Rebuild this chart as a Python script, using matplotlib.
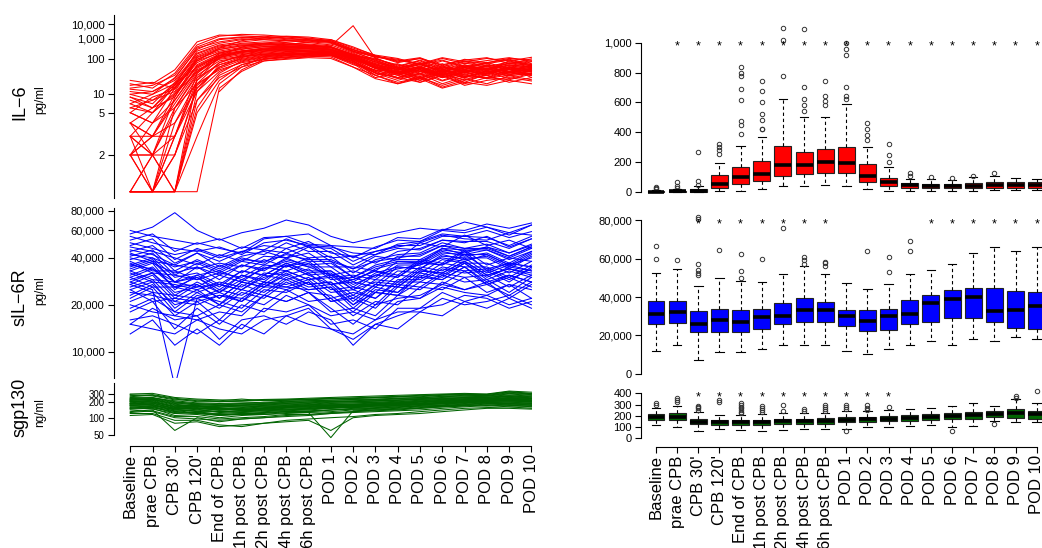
import numpy as np
import matplotlib
matplotlib.use("Agg")
import matplotlib.pyplot as plt
from matplotlib.ticker import FuncFormatter
import matplotlib.transforms as mtransforms

plt.rcParams['font.family'] = ['Liberation Sans', 'DejaVu Sans']

# ---------------------------------------------------------------- data
timepoints = ["Baseline", "prae CPB", "CPB 30'", "CPB 120'", "End of CPB",
              "1h post CPB", "2h post CPB", "4h post CPB", "6h post CPB",
              "POD 1", "POD 2", "POD 3", "POD 4", "POD 5", "POD 6",
              "POD 7", "POD 8", "POD 9", "POD 10"]

# individual patient courses, IL-6 (pg/ml); None = not measured
il6_patients = [
    [3, 2, 6, 40, 120, 210, 300, 280, 260, 240, 110, 60, 38, 52, 30, 45, 62, 41, 55],
    [1, 1, 4, 25, 80, 150, 200, 240, 230, 180, 90, 35, 48, 25, 40, 22, 38, 60, 30],
    [8, 6, 20, 150, 400, 600, 700, 650, 500, 380, 160, 95, 55, 80, 42, 70, 48, 90, 65],
    [2, 3, 10, 60, 150, 220, 260, 300, 280, 260, 120, 70, 40, 65, 35, 58, 75, 45, 70],
    [1, 1, 1, 8, 40, 90, 130, 160, 200, 210, 100, 45, 60, 28, 50, 32, 30, 52, 36],
    [5, 4, 15, 90, 200, 300, 420, 380, 340, 300, 150, 110, 60, 45, 75, 40, 66, 58, 85],
    [12, 10, 30, 300, 900, 1200, 1500, 1100, 900, 700, 250, 130, 90, 120, 65, 100, 80, 110, 95],
    [4, 3, 8, 50, 100, 140, 180, 200, 190, 170, 80, 40, 25, 38, 20, 32, 45, 28, 40],
    [2, 2, 5, 30, 70, 100, 150, 170, 160, 150, 70, 50, 30, 45, 38, 26, 40, 55, 35],
    [20, 15, 40, 500, 1500, 2000, 1800, 1400, 1100, 800, 300, 150, 85, 110, 70, 95, 120, 75, 105],
    [1, 1, 2, 15, 60, 120, 250, 350, 400, 300, 130, 55, 75, 40, 60, 48, 35, 58, 44],
    [6, 8, 12, 120, 300, 450, 500, 600, 550, 450, 8000, 110, 65, 90, 50, 78, 60, 85, 70],
    [3, 1, 3, 20, 50, 80, 100, 120, 140, 130, 60, 28, 20, 32, 16, 25, 35, 22, 30],
    [10, 12, 25, 200, 500, 700, 900, 800, 700, 600, 220, 100, 70, 55, 90, 62, 48, 80, 66],
    [2, 2, 1, 5, 25, 70, 110, 130, 150, 170, 90, 42, 30, 50, 25, 42, 28, 36, 48],
    [7, 5, 18, 100, 250, 380, 450, 420, 400, 380, 170, 85, 50, 72, 45, 60, 82, 52, 64],
    [1, 1, 1, 1, 15, 45, 90, 110, 130, 150, 80, 35, 22, 30, 18, 28, 20, 34, 26],
    [15, 18, 35, 400, 1000, 1300, 1100, 900, 800, 650, 240, 130, 95, 70, 110, 75, 92, 120, 88],
    [4, 6, 9, 70, 180, 260, 320, 350, 330, 290, 130, 65, 42, 58, 36, 52, 40, 62, 48],
    [2, 1, 6, 35, 90, 130, 170, 190, 210, 200, 95, 48, 35, 25, 42, 30, 46, 34, 40],
    [None, None, None, None, 12, 50, 100, 150, 180, 200, 100, 60, 40, 55, 32, 46, 38, 52, 44],
    [9, 7, 22, 180, 450, 550, 600, 550, 480, 420, 180, 95, 58, 80, 52, 68, 55, 75, 62],
    [1, 2, 3, 12, 45, 85, 120, 150, 170, 160, 75, 30, 40, 22, 34, 20, 30, 26, 38],
    [5, 9, 14, 80, 220, 320, 400, 450, 420, 360, 150, 75, 50, 70, 44, 58, 48, 66, 54],
    [3, 3, 7, 45, 110, 170, 220, 260, 240, 220, 105, 55, 38, 50, 30, 44, 56, 36, 50],
    [1, 1, 1, 3, 20, 60, 140, 200, 250, 240, 110, 58, 44, 32, 50, 36, 28, 42, 38],
    [25, 20, 50, 700, 1800, 1600, 1300, 1000, 850, 700, 280, 140, 100, 75, 120, 85, 110, 90, 125],
    [2, 4, 8, 55, 130, 190, 240, 280, 260, 230, 115, 62, 40, 58, 35, 50, 42, 60, 48],
    [6, 5, 11, 65, 160, 240, 310, 330, 310, 270, 125, 68, 52, 38, 60, 45, 70, 50, 58],
    [1, 1, 2, 18, 55, 95, 135, 165, 185, 175, 85, 45, 28, 40, 24, 36, 30, 44, 34],
    [18, 22, 15, 90, 350, 800, 1200, 1500, 1300, 900, 350, 160, 110, 70, 95, 60, 80, 100, 75],
    [1, 1, 1, 30, 150, 400, 600, 800, 900, 700, 250, 90, 55, 45, 65, 40, 55, 45, 60],
    [4, 2, 2, 8, 30, 60, 90, 100, 120, 110, 60, 35, 20, 28, 15, 22, 18, 25, 20],
    [10, 8, 18, 250, 600, 900, 1100, 1300, 1000, 800, 300, 120, 60, 95, 55, 85, 65, 75, 90],
    [2, 3, 3, 40, 200, 350, 500, 450, 420, 380, 140, 70, 45, 35, 55, 30, 48, 40, 52],
    [5, 4, 6, 20, 80, 160, 300, 500, 700, 900, 400, 150, 80, 110, 60, 90, 75, 95, 70],
    [1, 2, 1, 6, 35, 70, 100, 130, 160, 180, 90, 40, 30, 22, 36, 18, 25, 30, 24],
    [14, 12, 28, 350, 700, 1000, 900, 800, 650, 500, 200, 80, 55, 75, 45, 65, 50, 70, 58],
    [3, 2, 9, 100, 300, 450, 550, 500, 450, 400, 160, 75, 48, 62, 40, 56, 44, 58, 50],
    [7, 10, 20, 60, 150, 250, 350, 400, 380, 320, 140, 70, 45, 60, 38, 52, 65, 42, 55],
    [2, 1, 1, 12, 70, 130, 180, 220, 230, 200, 100, 55, 35, 50, 30, 42, 34, 46, 40],
    [1, 1, 3, 25, 120, 250, 350, 380, 360, 320, 120, 60, 42, 30, 48, 35, 52, 38, 45],
    [9, 6, 16, 130, 350, 500, 550, 520, 480, 400, 160, 85, 55, 72, 48, 62, 52, 68, 60],
    [3, 5, 10, 45, 140, 230, 280, 300, 320, 300, 120, 62, 40, 55, 34, 48, 38, 52, 44],
    [4, 3, 4, 15, 60, 110, 160, 180, 200, 220, 110, 55, 38, 28, 44, 30, 46, 34, 40],
]

# individual patient courses, sIL-6R (in 1,000 pg/ml)
sil6r_patients_k = [
    [31, 35, 26, 30, 24, 31, 28, 36, 31, 27, 29, 33, 30, 38, 36, 44, 33, 37, 35],
    [45, 42, 36, 43, 35, 41, 44, 40, 47, 38, 34, 41, 39, 50, 47, 56, 48, 52, 46],
    [22, 26, 18, 23, 21, 19, 25, 24, 28, 21, 22, 19, 26, 25, 31, 28, 29, 24, 30],
    [38, 33, 33, 29, 36, 32, 39, 35, 40, 31, 33, 30, 38, 37, 46, 42, 45, 39, 44],
    [26, 29, 21, 25, 20, 27, 24, 30, 26, 27, 20, 26, 24, 32, 30, 37, 29, 33, 30],
    [52, 57, 44, 50, 46, 43, 53, 55, 49, 48, 40, 47, 52, 51, 60, 58, 63, 56, 65],
    [18, 21, 14, 19, 15, 20, 18, 23, 20, 17, 18, 16, 21, 22, 26, 24, 23, 27, 22],
    [33, 29, 28, 26, 31, 28, 35, 33, 37, 29, 30, 27, 35, 34, 42, 39, 41, 35, 42],
    [29, 32, 23, 28, 24, 29, 27, 33, 29, 30, 23, 29, 28, 35, 33, 40, 32, 36, 33],
    [41, 45, 33, 39, 34, 40, 37, 46, 40, 41, 32, 39, 42, 43, 50, 46, 49, 43, 48],
    [24, 23, 21, 20, 23, 21, 26, 26, 25, 26, 19, 25, 24, 30, 29, 35, 28, 31, 28],
    [35, 39, 28, 35, 29, 36, 33, 40, 35, 35, 28, 34, 37, 37, 44, 41, 43, 37, 44],
    [13, 16, 11, 14, 11, 15, 13, 17, 15, 14, 12, 15, 14, 18, 17, 21, 19, 22, 19],
    [28, 25, 6, 22, 24, 21, 28, 26, 29, 22, 24, 22, 28, 28, 34, 32, 33, 28, 35],
    [60, 55, 52, 49, 53, 46, 54, 55, 57, 48, 47, 46, 54, 53, 61, 60, 66, 62, 67],
    [30, 34, 26, 27, 22, 28, 26, 32, 27, 28, 21, 27, 26, 33, 32, 38, 31, 34, 32],
    [37, 32, 31, 29, 32, 30, 36, 35, 38, 30, 31, 29, 36, 36, 43, 42, 42, 36, 43],
    [21, 24, 17, 21, 16, 22, 20, 25, 21, 22, 17, 21, 20, 26, 25, 30, 24, 27, 25],
    [43, 38, 36, 34, 37, 35, 41, 40, 43, 35, 35, 33, 41, 41, 48, 46, 46, 41, 47],
    [27, 31, 22, 27, 22, 28, 26, 31, 27, 28, 22, 27, 26, 33, 32, 38, 31, 34, 31],
    [34, 38, 28, 30, 25, 31, 29, 36, 31, 32, 25, 31, 30, 37, 36, 42, 34, 37, 35],
    [16, 17, 15, 13, 16, 14, 19, 18, 20, 15, 16, 14, 19, 19, 24, 21, 23, 20, 22],
    [48, 53, 39, 46, 41, 47, 45, 53, 47, 46, 38, 44, 48, 48, 55, 55, 54, 48, 55],
    [32, 28, 27, 25, 28, 26, 32, 31, 34, 27, 28, 26, 33, 32, 39, 37, 37, 32, 38],
    [25, 21, 22, 21, 23, 22, 27, 25, 28, 21, 23, 20, 27, 26, 32, 30, 31, 26, 31],
    [39, 43, 31, 37, 32, 38, 36, 43, 38, 38, 30, 36, 39, 39, 46, 45, 45, 40, 46],
    [30, 26, 26, 24, 27, 25, 31, 29, 32, 25, 26, 24, 31, 30, 37, 35, 35, 30, 36],
    [36, 40, 30, 32, 27, 33, 31, 37, 32, 33, 26, 32, 35, 34, 41, 40, 40, 34, 41],
    [20, 18, 17, 16, 18, 17, 23, 21, 24, 18, 19, 17, 23, 22, 28, 25, 27, 23, 28],
    [44, 48, 37, 43, 38, 44, 42, 50, 44, 44, 36, 42, 46, 45, 52, 51, 51, 46, 53],
    [57, 63, 78, 60, 52, 58, 62, 70, 65, 55, 50, 54, 58, 62, 60, 68, 63, 58, 65],
    [15, 19, 16, 17, 12, 16, 17, 15, 18, 16, 11, 15, 17, 19, 20, 23, 22, 19, 21],
    [47, 44, 40, 36, 42, 38, 45, 43, 48, 40, 41, 37, 44, 46, 52, 50, 55, 47, 53],
    [23, 27, 20, 22, 19, 24, 22, 28, 24, 23, 18, 24, 23, 28, 27, 33, 27, 30, 26],
    [36, 34, 28, 31, 33, 29, 34, 38, 35, 31, 29, 33, 31, 39, 37, 45, 36, 40, 38],
    [19, 22, 18, 17, 20, 18, 23, 21, 24, 19, 15, 20, 22, 23, 27, 25, 28, 22, 27],
    [50, 46, 42, 45, 40, 44, 48, 46, 51, 43, 41, 44, 47, 50, 56, 53, 52, 58, 56],
    [28, 32, 24, 26, 27, 25, 30, 33, 29, 31, 25, 28, 27, 34, 31, 37, 30, 35, 33],
    [40, 37, 32, 35, 31, 36, 34, 39, 36, 37, 30, 35, 38, 38, 45, 43, 47, 41, 47],
    [25, 28, 19, 24, 20, 25, 23, 29, 25, 26, 20, 24, 23, 31, 29, 35, 27, 31, 28],
    [55, 50, 46, 44, 47, 42, 50, 52, 48, 47, 43, 42, 49, 51, 57, 55, 60, 54, 59],
    [33, 37, 25, 31, 26, 33, 31, 37, 33, 33, 27, 31, 34, 36, 40, 38, 42, 36, 40],
    [15, 14, 13, 16, 14, 13, 16, 17, 19, 14, 13, 16, 18, 18, 22, 20, 21, 23, 20],
    [42, 40, 35, 38, 33, 39, 38, 42, 39, 39, 34, 38, 40, 42, 48, 44, 47, 43, 49],
    [27, 24, 23, 22, 25, 23, 28, 27, 30, 24, 25, 22, 29, 29, 35, 33, 34, 29, 34],
]

# individual patient courses, sgp130 (ng/ml)
sgp130_patients = [
    [185, 190, 145, 150, 140, 142, 150, 155, 160, 165, 170, 175, 180, 185, 195, 205, 215, 225, 215],
    [220, 230, 175, 165, 160, 165, 170, 175, 180, 190, 190, 195, 205, 215, 225, 235, 240, 260, 245],
    [160, 155, 125, 120, 115, 115, 125, 130, 130, 140, 145, 150, 155, 165, 170, 175, 190, 180, 175],
    [260, 280, 230, 200, 200, 210, 220, 220, 230, 240, 240, 250, 260, 270, 290, 300, 290, 340, 310],
    [140, 130, 100, 95, 90, 95, 100, 105, 110, 120, 125, 130, 135, 140, 150, 160, 170, 160, 160],
    [200, 210, 160, 160, 150, 150, 160, 165, 170, 175, 180, 185, 190, 200, 210, 220, 230, 240, 230],
    [175, 170, 140, 140, 130, 135, 140, 145, 150, 160, 165, 170, 175, 180, 190, 200, 210, 215, 205],
    [300, 310, 250, 230, 220, 215, 225, 230, 240, 250, 260, 270, 280, 290, 300, 310, 300, 350, 330],
    [120, 120, 90, 90, 75, 70, 80, 85, 90, 60, 100, 110, 115, 120, 130, 140, 150, 150, 145],
    [210, 200, 165, 150, 145, 150, 155, 160, 165, 170, 175, 180, 190, 200, 205, 215, 225, 235, 220],
    [150, 165, 120, 130, 115, 120, 125, 130, 135, 140, 150, 155, 160, 170, 175, 185, 195, 190, 185],
    [240, 250, 200, 180, 180, 185, 190, 200, 210, 215, 220, 225, 235, 245, 260, 270, 270, 300, 280],
    [170, 180, 130, 145, 125, 130, 135, 140, 145, 150, 160, 165, 170, 180, 185, 195, 205, 210, 200],
    [195, 185, 150, 155, 140, 145, 150, 160, 160, 170, 175, 180, 185, 195, 200, 210, 220, 230, 220],
    [130, 140, 60, 100, 85, 95, 100, 110, 115, 120, 130, 135, 140, 150, 160, 165, 175, 170, 165],
    [230, 225, 185, 175, 170, 175, 180, 185, 190, 200, 205, 210, 220, 230, 240, 250, 250, 270, 255],
    [165, 160, 135, 125, 120, 125, 130, 135, 140, 150, 155, 160, 165, 175, 180, 190, 200, 195, 190],
    [185, 200, 155, 160, 155, 140, 150, 160, 165, 175, 170, 180, 190, 190, 205, 215, 220, 230, 210],
    [250, 240, 210, 190, 185, 190, 195, 205, 210, 220, 225, 230, 240, 250, 265, 280, 275, 310, 290],
    [145, 150, 110, 115, 100, 110, 115, 120, 125, 45, 135, 140, 145, 155, 165, 170, 180, 175, 170],
    [205, 215, 170, 170, 160, 160, 165, 170, 175, 185, 190, 195, 200, 210, 220, 230, 235, 250, 240],
    [180, 175, 140, 135, 130, 135, 140, 140, 150, 155, 160, 170, 175, 180, 190, 195, 210, 205, 200],
    [275, 290, 240, 210, 210, 230, 210, 215, 225, 235, 245, 255, 265, 280, 285, 290, 280, 320, 300],
    [155, 145, 120, 125, 110, 120, 120, 130, 130, 140, 145, 150, 160, 165, 170, 180, 190, 185, 180],
    [215, 220, 180, 160, 165, 170, 175, 180, 185, 195, 200, 205, 215, 225, 230, 245, 250, 265, 240],
    [190, 175, 150, 145, 150, 135, 145, 155, 150, 160, 165, 170, 185, 180, 190, 200, 205, 220, 210],
    [235, 245, 195, 185, 175, 180, 185, 195, 200, 205, 210, 220, 230, 235, 250, 260, 265, 285, 270],
    [170, 165, 145, 130, 135, 125, 140, 140, 145, 155, 155, 165, 170, 175, 185, 190, 200, 200, 195],
    [125, 135, 105, 105, 95, 100, 105, 115, 115, 125, 130, 140, 145, 150, 160, 170, 165, 175, 160],
    [205, 195, 160, 165, 150, 155, 165, 165, 175, 180, 180, 190, 195, 205, 215, 225, 230, 245, 235],
    [290, 270, 220, 220, 200, 205, 215, 220, 220, 235, 235, 245, 255, 260, 280, 290, 295, 330, 305],
    [150, 155, 130, 120, 110, 115, 115, 125, 125, 130, 140, 145, 150, 160, 165, 175, 185, 185, 180],
    [225, 235, 190, 175, 170, 170, 180, 190, 195, 200, 200, 210, 215, 230, 235, 245, 255, 275, 260],
    [180, 190, 150, 150, 140, 145, 145, 150, 155, 165, 165, 175, 180, 185, 195, 200, 210, 220, 215],
    [110, 115, 80, 85, 70, 75, 80, 90, 95, 100, 105, 115, 120, 130, 140, 150, 155, 160, 150],
]

# box-plot summaries ---------------------------------------------------
il6_q1 = [1, 1, 3, 28, 55, 75, 110, 120, 130, 130, 70, 40, 30, 25, 25, 28, 30, 30, 30]
il6_med = [3, 4, 8, 55, 100, 120, 180, 180, 200, 195, 110, 65, 45, 40, 38, 42, 45, 48, 45]
il6_q3 = [6, 8, 18, 112, 165, 210, 310, 270, 290, 300, 185, 95, 60, 55, 55, 60, 70, 70, 65]
il6_lo = [0, 0, 0, 5, 10, 20, 40, 40, 50, 40, 20, 10, 10, 10, 8, 10, 12, 15, 15]
il6_hi = [12, 18, 40, 195, 310, 370, 620, 500, 500, 590, 300, 170, 90, 85, 80, 100, 110, 95, 90]
il6_out = [[20, 25, 35], [30, 40, 65], [50, 75, 270], [255, 280, 300, 320],
           [390, 450, 475, 615, 690, 775, 800, 840],
           [420, 425, 480, 525, 600, 675, 745],
           [780, 1020, 1100], [540, 580, 620, 700, 1090], [580, 610, 640, 740],
           [620, 640, 700, 920, 960, 1000], [350, 380, 420, 460], [200, 250, 320],
           [110, 130], [100], [95], [110], [130], [], []]
il6_sig = [1, 2, 3, 4, 5, 6, 7, 8, 9, 10, 11, 12, 13, 14, 15, 16, 17, 18]

sil6r_q1 = [26000, 26500, 22000, 22000, 22000, 23500, 26000, 27000, 27000, 25000,
            22500, 23000, 26000, 27000, 29000, 29000, 27000, 24000, 23500]
sil6r_med = [31000, 32000, 26000, 28000, 27000, 29500, 30000, 33000, 33000, 30000,
             27500, 30000, 31000, 37000, 39000, 40000, 32500, 33500, 35500]
sil6r_q3 = [38000, 38000, 32500, 34000, 33000, 34000, 37000, 39500, 37500, 33500,
            33500, 34000, 38500, 41000, 43500, 44500, 44500, 43000, 42500]
sil6r_lo = [12000, 15000, 7500, 11500, 11500, 13000, 15000, 15000, 15000, 12000,
            10500, 13000, 15000, 17000, 15000, 18000, 17000, 19000, 18000]
sil6r_hi = [52500, 54500, 45500, 50000, 48500, 48000, 52000, 56000, 52000, 47500,
            44000, 47000, 52000, 54000, 57000, 63000, 66000, 64000, 66000]
sil6r_out = [[59500, 66500], [59000], [51500, 52500, 54000, 57000, 80500, 81500],
             [64500], [50000, 53500, 62500], [59500], [76000],
             [57000, 59000, 61000], [56000, 57500, 58000], [], [64000],
             [53000, 61000], [64000, 69000], [], [], [], [], [], []]
sil6r_sig = [2, 3, 4, 5, 6, 7, 8, 13, 14, 15, 16, 17, 18]

sgp_q1 = [165, 160, 125, 120, 115, 115, 125, 130, 130, 140, 145, 150, 155, 165, 170, 175, 190, 180, 175]
sgp_med = [185, 185, 145, 145, 140, 140, 150, 150, 155, 165, 170, 175, 180, 185, 195, 205, 215, 225, 215]
sgp_q3 = [215, 220, 175, 165, 160, 165, 170, 175, 180, 190, 190, 195, 205, 215, 225, 235, 240, 260, 245]
sgp_lo = [120, 100, 60, 85, 70, 60, 70, 80, 80, 80, 100, 100, 110, 120, 100, 110, 150, 140, 140]
sgp_hi = [270, 290, 235, 205, 205, 215, 220, 225, 220, 240, 240, 250, 260, 270, 290, 310, 290, 350, 310]
sgp_out = [[300, 310], [320, 340, 360], [250, 265, 280, 290], [320, 340],
           [220, 235, 250, 265, 280, 300, 315], [235, 250, 270, 285], [240, 300],
           [240, 260], [240, 260, 280, 300], [60, 260, 280, 300], [250, 270, 300],
           [280], [], [], [60], [], [130], [360, 380], [420]]
sgp_sig = [2, 3, 4, 5, 6, 7, 8, 9, 10, 11]

# ---------------------------------------------------------------- layout
W, H = 1042, 548
fig = plt.figure(figsize=(W / 100, H / 100), dpi=100)
x = np.arange(len(timepoints))


def add_ax(x0, y0, x1, y1):
    return fig.add_axes([x0 / W, 1 - y1 / H, (x1 - x0) / W, (y1 - y0) / H])


def interp_scale(klog, kpx):
    klog = np.asarray(klog, float)
    kneg = -np.asarray(kpx, float)

    def fwd(v):
        v = np.asarray(v, float)
        with np.errstate(divide="ignore", invalid="ignore"):
            lv = np.log10(v)
        return np.interp(lv, klog, kneg)

    def inv(y):
        return 10 ** np.interp(np.asarray(y, float), kneg, klog)
    return fwd, inv


thousands = FuncFormatter(lambda v, p: f"{v:,.0f}")


def style(ax, xlim, lsize=8):
    ax.set_xlim(*xlim)
    for s in ("top", "right", "bottom"):
        ax.spines[s].set_visible(False)
    ax.spines["left"].set_linewidth(0.8)
    ax.tick_params(axis="y", length=4, width=0.8, pad=2.5, labelsize=lsize)
    ax.tick_params(axis="x", bottom=False, labelbottom=False)
    ax.patch.set_alpha(0)


def xaxis(ax, off):
    ax.spines["bottom"].set_visible(True)
    ax.spines["bottom"].set_position(("outward", off))
    ax.spines["bottom"].set_bounds(0, 18)
    ax.spines["bottom"].set_linewidth(0.8)
    ax.set_xticks(x)
    ax.set_xticklabels(timepoints, rotation=90, fontsize=12)
    ax.tick_params(axis="x", bottom=True, labelbottom=True, length=4,
                   width=0.8, pad=2)


def nan_list(p):
    return np.array([np.nan if v is None else v for v in p], float)


lines_xlim = (-0.75, 18.72)
box_xlim = (-0.71, 18.71)

# ---- left: IL-6 spaghetti (compressed log scale)
ax1 = add_ax(113.5, 15, 547.5, 197.7)
fwd, inv = interp_scale([-1, 0, np.log10(2), np.log10(5), 1, 2, 3, 4, 5],
                        [313.7, 191.7, 155.0, 112.7, 94.3, 59.3, 38.7, 24.3, 9.9])
ax1.set_yscale("function", functions=(fwd, inv))
for p in il6_patients:
    ax1.plot(x, nan_list(p), color="#FF0000", lw=0.75)
ax1.set_ylim(float(inv(-197.7)), float(inv(-15)))
style(ax1, lines_xlim)
ax1.set_yticks([2, 5, 10, 100, 1000, 10000])
ax1.set_yticks([], minor=True)
ax1.yaxis.set_major_formatter(thousands)

# ---- left: sIL-6R spaghetti (log)
ax2 = add_ax(113.5, 208, 547.5, 378)
ax2.set_yscale("log")
for p in sil6r_patients_k:
    ax2.plot(x, nan_list(p) * 1000, color="#0000FF", lw=0.75)
ax2.set_ylim(6780, 83600)
style(ax2, lines_xlim)
ax2.set_yticks([10000, 20000, 40000, 60000, 80000])
ax2.set_yticks([], minor=True)
ax2.yaxis.set_major_formatter(thousands)

# ---- left: sgp130 spaghetti
ax3 = add_ax(113.5, 382.7, 547.5, 440)
fwd3, inv3 = interp_scale([np.log10(20), np.log10(50), 2, np.log10(200), np.log10(300), 3],
                          [457.9, 435.0, 417.7, 401.7, 394.0, 371.1])
ax3.set_yscale("function", functions=(fwd3, inv3))
for p in sgp130_patients:
    ax3.plot(x, nan_list(p), color="#006400", lw=0.75)
ax3.set_ylim(float(inv3(-440)), float(inv3(-382.7)))
style(ax3, lines_xlim, lsize=7)
ax3.set_yticks([50, 100, 200, 300])
ax3.set_yticks([], minor=True)
ax3.yaxis.set_major_formatter(thousands)
ax3.spines["left"].set_bounds(50, float(inv3(-382.7)))
xaxis(ax3, 4.3)


# ---- right: box plots
def stats(q1, med, q3, lo, hi, out):
    return [dict(q1=a, med=b, q3=c, whislo=d, whishi=e, fliers=f)
            for a, b, c, d, e, f in zip(q1, med, q3, lo, hi, out)]


def boxes(ax, st, color, sig, top):
    ax.bxp(st, positions=x, widths=0.8, capwidths=0.4, patch_artist=True,
           manage_ticks=False,
           boxprops=dict(facecolor=color, edgecolor="#222222", linewidth=0.8),
           medianprops=dict(color="black", linewidth=2.6, solid_capstyle="butt"),
           whiskerprops=dict(color="black", linewidth=0.8, linestyle=(0, (3, 2.5))),
           capprops=dict(color="black", linewidth=0.8),
           flierprops=dict(marker="o", markerfacecolor="none",
                           markeredgecolor="#333333", markersize=3.2,
                           markeredgewidth=0.7))
    tr = mtransforms.offset_copy(ax.transData, fig=fig, x=0, y=-5.0, units="points")
    for i in sig:
        ax.text(i, top, "*", ha="center", va="baseline", fontsize=9,
                transform=tr)


bx1 = add_ax(641, 18, 1051.7, 197)
boxes(bx1, stats(il6_q1, il6_med, il6_q3, il6_lo, il6_hi, il6_out), "#FF0000", il6_sig, 1000)
bx1.set_ylim(-33.5, 1165)
style(bx1, box_xlim)
bx1.set_yticks([0, 200, 400, 600, 800, 1000])
bx1.yaxis.set_major_formatter(thousands)
bx1.spines["left"].set_bounds(0, 1000)

bx2 = add_ax(641, 212, 1051.7, 378)
boxes(bx2, stats(sil6r_q1, sil6r_med, sil6r_q3, sil6r_lo, sil6r_hi, sil6r_out), "#0000FF", sil6r_sig, 80000)
bx2.set_ylim(-2078, 84156)
style(bx2, box_xlim)
bx2.set_yticks([0, 20000, 40000, 60000, 80000])
bx2.yaxis.set_major_formatter(thousands)
bx2.spines["left"].set_bounds(0, 80000)

bx3 = add_ax(641, 386, 1051.7, 441)
boxes(bx3, stats(sgp_q1, sgp_med, sgp_q3, sgp_lo, sgp_hi, sgp_out), "#006400", sgp_sig, 400)
bx3.set_ylim(-27, 467)
style(bx3, box_xlim)
bx3.set_yticks([0, 100, 200, 300, 400])
bx3.yaxis.set_major_formatter(thousands)
bx3.spines["left"].set_bounds(0, 400)
xaxis(bx3, 4.3)


# ---- row labels
def px(xp, yp):
    return xp / W, 1 - yp / H


fig.text(*px(20, 102), "IL\u22126", rotation=90, ha="center", va="center", fontsize=13)
fig.text(*px(40, 100), "pg/ml", rotation=90, ha="center", va="center", fontsize=8.5)
fig.text(*px(20, 297), "sIL\u22126R", rotation=90, ha="center", va="center", fontsize=13)
fig.text(*px(40, 291), "pg/ml", rotation=90, ha="center", va="center", fontsize=8.5)
fig.text(*px(20, 407), "sgp130", rotation=90, ha="center", va="center", fontsize=13)
fig.text(*px(40, 413), "ng/ml", rotation=90, ha="center", va="center", fontsize=8.5)

fig.savefig("out.png", dpi=100)
